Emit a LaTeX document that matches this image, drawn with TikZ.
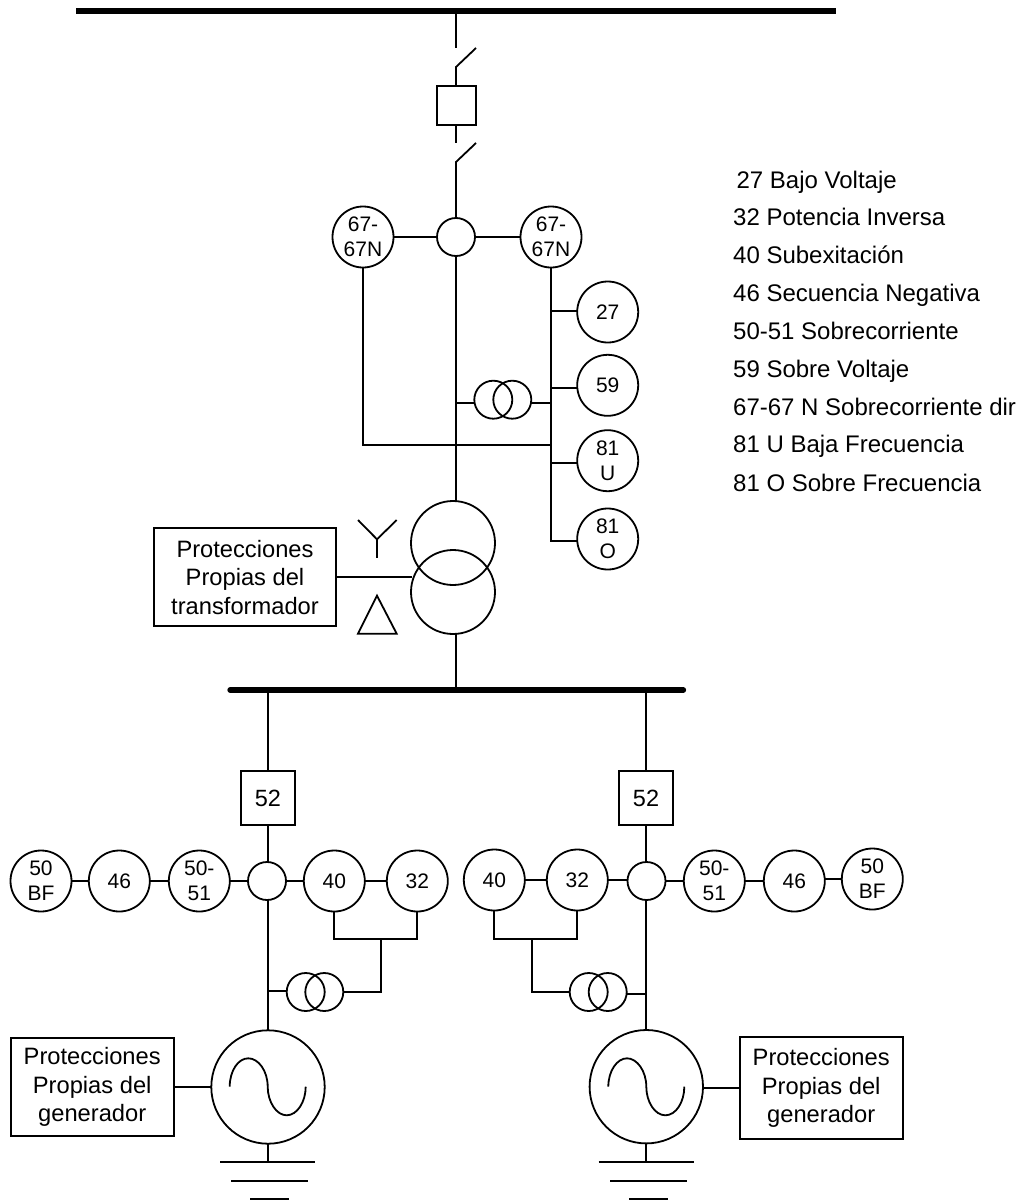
\documentclass[tikz,border=0pt]{standalone}
\usepackage{fontspec}
\setmainfont{Liberation Sans}
\tikzset{
  relay/.style={draw,circle,inner sep=0pt,outer sep=0pt,minimum size=61pt,align=center,font=\fontsize{21}{25}\selectfont},
  ct/.style={draw,circle,inner sep=0pt,outer sep=0pt,minimum size=38pt},
  gen/.style={draw,circle,inner sep=0pt,outer sep=0pt,minimum size=113.4pt},
  trafo/.style={draw,circle,inner sep=0pt,outer sep=0pt,minimum size=84pt},
  brk/.style={draw,rectangle,inner sep=0pt,outer sep=0pt,minimum size=54pt,font=\fontsize{23.5}{28}\selectfont},
  prot/.style={draw,rectangle,inner sep=0pt,outer sep=0pt,align=center,font=\fontsize{23.7}{28.5}\selectfont},
  legend/.style={anchor=base west,inner sep=0pt,font=\fontsize{24}{28}\selectfont},
  bus/.style={line width=5.3pt},
}
\begin{document}
\begin{tikzpicture}[x=1pt,y=-1pt,line width=1.8pt]
  \useasboundingbox (0,0) rectangle (1020,1202);
  % upper bar and line
  \coordinate (TopL) at (76,11);
  \coordinate (TopR) at (836,11);
  \coordinate (TopT) at (456,11);
  \draw[bus] (TopL) -- (TopR);
  \coordinate (SwA1) at (456,48);
  \coordinate (SwA2) at (456,67);
  \coordinate (SwA3) at (476,48);
  \node[brk,minimum size=39pt] (Brk) at (456.5,105.5) {};
  \coordinate (SwB1) at (456,143);
  \coordinate (SwB2) at (456,162);
  \coordinate (SwB3) at (476,143);
  \node[ct] (CtTop) at (456,237) {};
  \draw (TopT) -- (SwA1);
  \draw (SwA3) -- (SwA2) -- (SwA2 |- Brk.north);
  \draw (SwB1 |- Brk.south) -- (SwB1);
  \draw (SwB3) -- (SwB2) -- (CtTop.north);
  % relays of the high side
  \node[relay] (RelL) at (363,237) {67-\\67N};
  \node[relay] (RelR) at (551,237) {67-\\67N};
  \node[relay] (R27) at (607.7,312) {27};
  \node[relay] (R59) at (607.7,385.3) {59};
  \node[relay] (R81U) at (607.7,460.7) {81\\U};
  \node[relay] (R81O) at (607.7,539) {81\\O};
  \draw (RelL) -- (CtTop) -- (RelR);
  \coordinate (J27) at (551,311);
  \coordinate (J59) at (551,388);
  \coordinate (J81U) at (551,463);
  \coordinate (J81O) at (551,541);
  \coordinate (JLeft) at (551,445);
  \draw (RelR.south) -- (J81O) -- (J81O -| R81O.west);
  \draw (J27) -- (J27 -| R27.west);
  \draw (J59) -- (J59 -| R59.west);
  \draw (J81U) -- (J81U -| R81U.west);
  \draw (RelL.south) |- (JLeft);
  % voltage transformer
  \node[ct] (VtA) at (493.3,399.7) {};
  \node[ct] (VtB) at (512.3,399.7) {};
  \coordinate (JVt) at (456,403);
  \coordinate (JVtR) at (551,403);
  \draw (JVt) -- (JVt -| VtA.west);
  \draw (JVt -| VtB.east) -- (JVtR);
  % power transformer
  \node[trafo] (TrUp) at (453,543) {};
  \node[trafo] (TrLo) at (453,592) {};
  \coordinate (TrIn) at (456,501.3);
  \coordinate (TrOut) at (456,633.7);
  \coordinate (BusT) at (456,690);
  \draw (CtTop.south) -- (TrIn);
  \draw (TrOut) -- (BusT);
  \node[prot,minimum width=182pt,minimum height=98pt] (ProtT) at (245,577.2) {Protecciones\\Propias del\\transformador};
  \coordinate (TrSide) at (411.6,577);
  \draw (ProtT.east |- TrSide) -- (TrSide);
  % wye and delta
  \coordinate (Wye) at (377,539.3);
  \draw (358,520) -- (Wye) -- (396.7,520);
  \draw (Wye) -- (377,558.3);
  \draw[line join=miter] (377,595.7) -- (396.7,633.7) -- (358,633.7) -- cycle;
  % lower bar
  \coordinate (LowL) at (230,690);
  \coordinate (LowR) at (683.5,690);
  \draw[bus,line cap=round] (LowL) -- (LowR);
  % left machine
  \coordinate (LowA) at (268,690);
  \node[brk] (BrkA) at (268,798) {52};
  \node[ct] (CtA) at (267,881) {};
  \node[relay] (BfA) at (41,881) {50\\BF};
  \node[relay] (NegA) at (119.3,881) {46};
  \node[relay] (OcA) at (199.3,881) {50-\\51};
  \node[relay] (UeA) at (334.3,881) {40};
  \node[relay] (RpA) at (417.3,881) {32};
  \draw (LowA) -- (BrkA.north);
  \draw (BrkA.south) -- (BrkA.south |- CtA.north);
  \draw (BfA) -- (NegA) -- (OcA) -- (CtA) -- (UeA) -- (RpA);
  \coordinate (BrA) at (381,939);
  \draw (UeA.south) |- (BrA) -| (RpA.south);
  \node[ct] (VtC) at (305.7,992) {};
  \node[ct] (VtD) at (324.3,992) {};
  \draw (BrA) |- (VtD.east);
  \node[gen] (GenA) at (268,1087) {};
  \draw (BrkA.south |- CtA.south) -- (GenA.north);
  \coordinate (JA) at (268,991);
  \draw (JA) -- (JA -| VtC.west);
  \draw (229.7,1086.7) .. controls (229.7,1071) and (238,1058.3) .. (248.3,1058.3)
    .. controls (258.5,1058.3) and (267.7,1071) .. (267.7,1086.7)
    .. controls (267.7,1102) and (276.5,1115.3) .. (286.7,1115.3)
    .. controls (297,1115.3) and (305.7,1102) .. (305.7,1086.7);
  \node[prot,minimum width=163pt,minimum height=98.4pt] (ProtA) at (92.2,1087) {Protecciones\\Propias del\\generador};
  \draw (ProtA.east) -- (GenA.west);
  \coordinate (GndA) at (268,1162);
  \coordinate (GndA1) at (220,1162);
  \coordinate (GndA2) at (315.3,1162);
  \coordinate (GndA3) at (231.3,1181);
  \coordinate (GndA4) at (308,1181);
  \coordinate (GndA5) at (250,1199);
  \coordinate (GndA6) at (289.3,1199);
  \draw (GenA.south) -- (GndA);
  \draw (GndA1) -- (GndA2);
  \draw (GndA3) -- (GndA4);
  \draw (GndA5) -- (GndA6);
  % right machine
  \coordinate (LowB) at (646,690);
  \node[brk] (BrkB) at (646,798) {52};
  \node[ct] (CtB) at (646.5,881) {};
  \node[relay] (BfB) at (872.3,879) {50\\BF};
  \node[relay] (NegB) at (794.3,881) {46};
  \node[relay] (OcB) at (714.3,881) {50-\\51};
  \node[relay] (UeB) at (494.3,880) {40};
  \node[relay] (RpB) at (577.3,880) {32};
  \draw (LowB) -- (BrkB.north);
  \draw (BrkB.south) -- (BrkB.south |- CtB.north);
  \draw (UeB) -- (RpB);
  \draw (RpB) -- (RpB -| CtB.west);
  \draw (CtB) -- (OcB) -- (NegB);
  \draw (NegB.east |- BfB) -- (BfB);
  \coordinate (BrB) at (532,939);
  \draw (UeB.south) |- (BrB) -| (RpB.south);
  \node[ct] (VtE) at (588.7,992) {};
  \node[ct] (VtF) at (607.7,992) {};
  \draw (BrB) |- (VtE.west);
  \node[gen] (GenB) at (646.3,1086.7) {};
  \draw (BrkB.south |- CtB.south) -- (BrkB.south |- GenB.north);
  \coordinate (JB) at (646,994);
  \draw (JB -| VtF.east) -- (JB);
  \draw (608.3,1086.7) .. controls (608.3,1071) and (617,1058.3) .. (627,1058.3)
    .. controls (637,1058.3) and (646.3,1071) .. (646.3,1086.7)
    .. controls (646.3,1102) and (655,1115.3) .. (665.3,1115.3)
    .. controls (676,1115.3) and (684.3,1102) .. (684.3,1086.7);
  \node[prot,minimum width=163pt,minimum height=101.7pt] (ProtB) at (821.2,1088.2) {Protecciones\\Propias del\\generador};
  \draw (GenB.east |- ProtB.west) -- (ProtB.west);
  \coordinate (GndB) at (646,1162);
  \coordinate (GndB1) at (598.7,1162);
  \coordinate (GndB2) at (694,1162);
  \coordinate (GndB3) at (610.3,1181);
  \coordinate (GndB4) at (686.7,1181);
  \coordinate (GndB5) at (629,1199);
  \coordinate (GndB6) at (667.7,1199);
  \draw (GndB |- GenB.south) -- (GndB);
  \draw (GndB1) -- (GndB2);
  \draw (GndB3) -- (GndB4);
  \draw (GndB5) -- (GndB6);
  % list of functions
  \node[legend] (L27) at (735.7,188.5) {27 Bajo Voltaje};
  \node[legend] (L32) at (732.3,225.5) {32 Potencia Inversa};
  \node[legend] (L40) at (732.3,263.5) {40 Subexitación};
  \node[legend] (L46) at (732.3,301.8) {46 Secuencia Negativa};
  \node[legend] (L50) at (732.3,339.5) {50-51 Sobrecorriente};
  \node[legend] (L59) at (732.3,377.8) {59 Sobre Voltaje};
  \node[legend] (L67) at (732.3,415.5) {67-67 N Sobrecorriente dir};
  \node[legend] (L81U) at (732.3,452.8) {81 U Baja Frecuencia};
  \node[legend] (L81O) at (732.3,491.2) {81 O Sobre Frecuencia};
\end{tikzpicture}
\end{document}
